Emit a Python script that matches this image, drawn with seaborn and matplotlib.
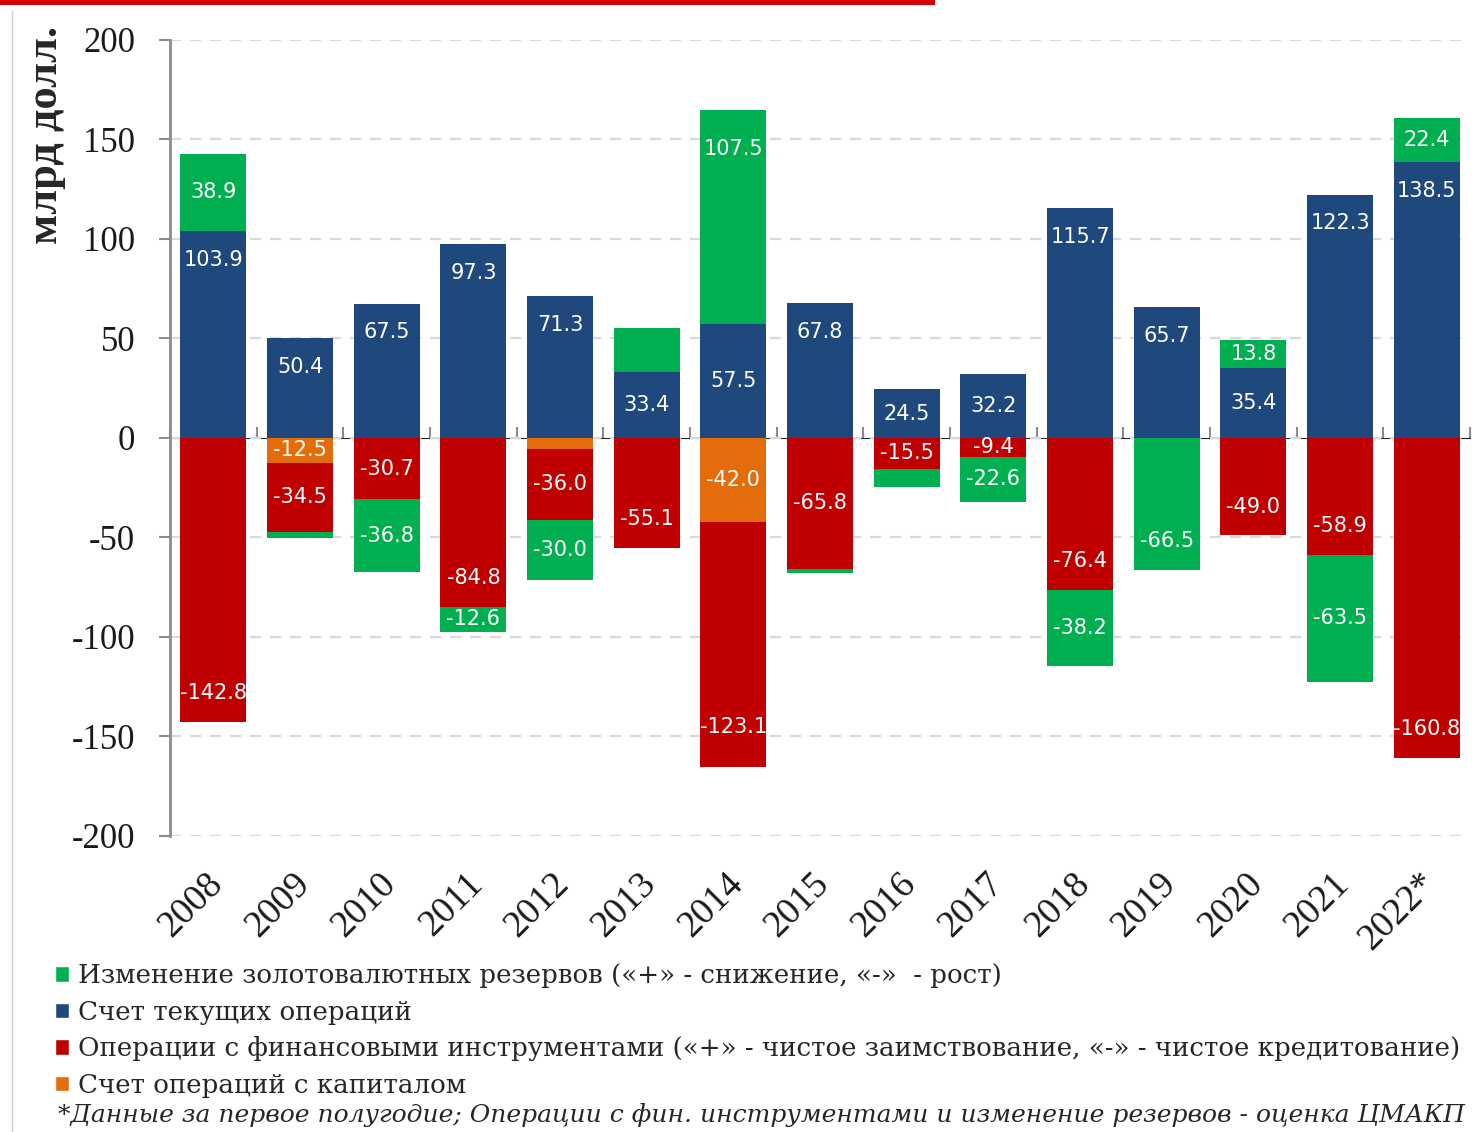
import numpy as np
import matplotlib
matplotlib.use("Agg")
import matplotlib.pyplot as plt
import matplotlib.transforms as mtransforms
from matplotlib.patches import Patch, Rectangle
from matplotlib.lines import Line2D
import seaborn as sns

years = ["2008", "2009", "2010", "2011", "2012", "2013", "2014", "2015",
         "2016", "2017", "2018", "2019", "2020", "2021", "2022*"]
reserves = [38.9, -3.4, -36.8, -12.6, -30.0, 21.7, 107.5, -2.0, -9.0, -22.6, -38.2, -66.5, 13.8, -63.5, 22.4]
current = [103.9, 50.4, 67.5, 97.3, 71.3, 33.4, 57.5, 67.8, 24.5, 32.2, 115.7, 65.7, 35.4, 122.3, 138.5]
financial = [-142.8, -34.5, -30.7, -84.8, -36.0, -55.1, -123.1, -65.8, -15.5, -9.4, -76.4, 0.0, -49.0, -58.9, -160.8]
capital = [0.0, -12.5, 0.0, 0.0, -5.3, 0.0, -42.0, 0.0, 0.0, 0.0, 0.0, 0.0, 0.0, 0.0, 0.0]

names = ["Изменение золотовалютных резервов («+» - снижение, «-»  - рост)",
         "Счет текущих операций",
         "Операции с финансовыми инструментами («+» - чистое заимствование, «-» - чистое кредитование)",
         "Счет операций с капиталом"]
note = "*Данные за первое полугодие; Операции с фин. инструментами и изменение резервов - оценка ЦМАКП"

GREEN, BLUE, RED, ORANGE = "#00b050", "#1f497d", "#c00000", "#e46c0a"

sns.set_style("white")
plt.rcParams["font.family"] = ["Liberation Serif", "DejaVu Serif"]
plt.rcParams["axes.unicode_minus"] = False

fig = plt.figure(figsize=(14.84, 11.32), dpi=100)
ax = fig.add_axes([0.1146, 0.2615, 0.876, 0.7032])

g = np.array(reserves)
c = np.array(current)
f = np.array(financial)
k = np.array(capital)

# stacked bars by overlaying cumulative totals, outermost first
layers = [
    (c + np.clip(g, 0, None), GREEN),
    (c, BLUE),
    (k + f + np.clip(g, None, 0), GREEN),
    (k + f, RED),
    (k, ORANGE),
]
for h, col in layers:
    sns.barplot(x=years, y=h, order=years, color=col, saturation=1,
                width=0.76, linewidth=0, ax=ax)

# data labels
centered = {("2014", "current"), ("2014", "capital"), ("2015", "financial"), ("2021", "reserves")}
skip = {("2013", "reserves")}
for i, yr in enumerate(years):
    segs = {
        "current": (0, c[i]),
        "reserves": (c[i], c[i] + g[i]) if g[i] > 0 else (k[i] + f[i], k[i] + f[i] + g[i]),
        "financial": (k[i], k[i] + f[i]),
        "capital": (0, k[i]),
    }
    vals = {"current": c[i], "reserves": g[i], "financial": f[i], "capital": k[i]}
    for key, (lo, hi) in segs.items():
        v = vals[key]
        if abs(v) < 9.2 or (yr, key) in skip:
            continue
        if abs(v) > 40 and (yr, key) not in centered:
            off = 14.5 if lo == 0 else 20
            ypos = hi - np.sign(v) * off
        else:
            ypos = (lo + hi) / 2
        ax.text(i, ypos, f"{v:.1f}", ha="center", va="center", color="white",
                fontsize=15, family="DejaVu Sans")

ax.set_ylim(-200, 200)
ax.set_xlim(-0.5, len(years) - 0.5)
ax.set_yticks(range(-200, 201, 50))
ax.yaxis.grid(True, color="#d9d9d9", linestyle=(0, (5, 4)), linewidth=1.6)
ax.set_axisbelow(True)
ax.tick_params(axis="y", labelsize=25, length=8, width=1.5, color="#8c8c8c",
               direction="out", left=True, pad=17, labelcolor="#1a1a1a")
ax.tick_params(axis="x", labelsize=27, length=0, pad=22, labelcolor="#1a1a1a")
shift = mtransforms.ScaledTranslation(-8 / 100, 0, fig.dpi_scale_trans)
for lab in ax.get_xticklabels():
    lab.set_rotation(45)
    lab.set_ha("right")
    lab.set_rotation_mode("anchor")
    lab.set_transform(lab.get_transform() + shift)
for s in ["top", "right", "bottom"]:
    ax.spines[s].set_visible(False)
ax.spines["left"].set_color("#8c8c8c")
ax.spines["left"].set_linewidth(2)
ax.set_xlabel("")
ax.set_ylabel("")

# zero line with category tick marks
zero = ax.secondary_xaxis(0.5)
zero.set_xticks(np.arange(-0.5, len(years), 1.0))
zero.tick_params(length=8, width=1.5, color="#8c8c8c", direction="out", labelbottom=False)
zero.spines["bottom"].set_color("#8c8c8c")
zero.spines["bottom"].set_linewidth(2.5)
zero.set_xticklabels([])

fig.text(0.031, 0.881, "млрд долл.", rotation=90, ha="center", va="center",
         fontsize=32, fontweight="bold")

handles = [Patch(facecolor=col) for col in [GREEN, BLUE, RED, ORANGE]]
fig.legend(handles, names, loc="upper left", bbox_to_anchor=(0.037, 0.149),
           frameon=False, prop={"family": "DejaVu Serif", "size": 18.8},
           handlelength=0.55, handleheight=0.55,
           handletextpad=0.35, labelspacing=0.44, borderpad=0, borderaxespad=0)
fig.text(0.039, 0.015, note, fontsize=18, style="italic", family="DejaVu Serif",
         ha="left", va="center")

fig.add_artist(Rectangle((0, 1 - 5 / 1132), 0.63, 5 / 1132, transform=fig.transFigure,
                         color="#d40000", lw=0))
fig.add_artist(Line2D([0.008, 0.008], [0.0, 0.99], transform=fig.transFigure,
                      color="#d0d0d0", lw=1))

fig.savefig("out.png", dpi=100)
